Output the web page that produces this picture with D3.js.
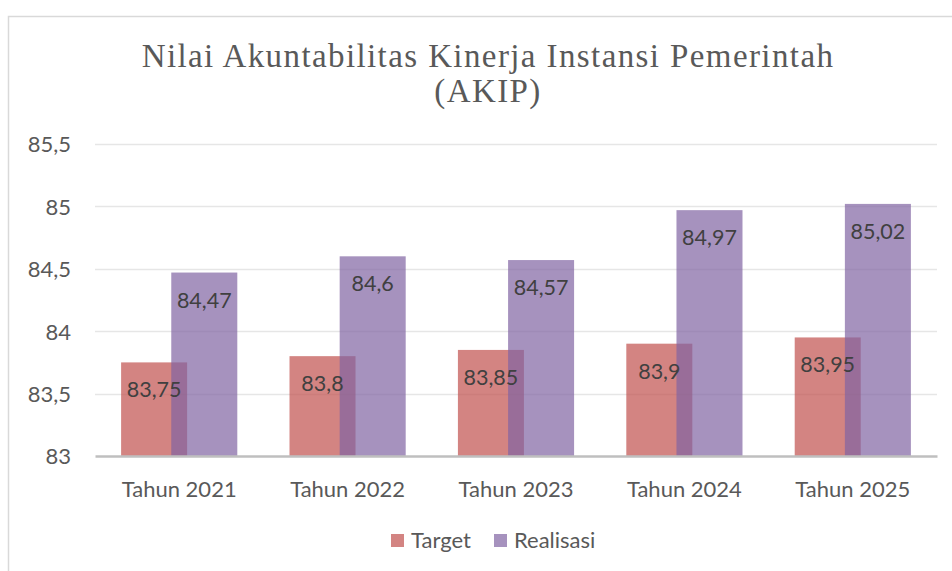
<!DOCTYPE html>
<html>
<head>
<meta charset="utf-8">
<script src="https://cdn.jsdelivr.net/npm/d3@7"></script>
<style>
  html, body { margin: 0; padding: 0; background: #fff; overflow: hidden; }
  svg { display: block; }
</style>
</head>
<body>
<div id="chart"></div>
<script>
const categories = ['Tahun 2021', 'Tahun 2022', 'Tahun 2023', 'Tahun 2024', 'Tahun 2025'];
const target = [83.75, 83.8, 83.85, 83.9, 83.95];
const realisasi = [84.47, 84.6, 84.57, 84.97, 85.02];
const yTicks = [83, 83.5, 84, 84.5, 85, 85.5];
const seriesNames = ['Target', 'Realisasi'];
const seriesColors = ['#C0504D', '#8064A2'];

(function () {
  const W = 952, H = 571;
  const svg = d3.select('#chart').append('svg')
    .attr('width', W).attr('height', H);

  // chart area frame (runs off the right/bottom edge)
  svg.append('rect')
    .attr('x', 8.5).attr('y', 16.5)
    .attr('width', 1000).attr('height', 700)
    .attr('fill', '#fff')
    .attr('stroke', '#d9d9d9').attr('stroke-width', 1.5);

  const plot = { left: 95, right: 937, top: 144, bottom: 456 };
  const fmt = v => String(v).replace('.', ',');

  const x = d3.scaleBand().domain(categories).range([plot.left, plot.right]);
  const y = d3.scaleLinear().domain([83, 85.5]).range([plot.bottom, plot.top]);

  // title
  const title = svg.append('text')
    .attr('text-anchor', 'middle')
    .attr('fill', '#595959')
    .style('font-family', '"Liberation Serif", serif')
    .style('font-size', '33px')
    .style('letter-spacing', '1.4px');
  title.append('tspan').attr('x', 488).attr('y', 67).text('Nilai Akuntabilitas Kinerja Instansi Pemerintah');
  title.append('tspan').attr('x', 488).attr('y', 102).text('(AKIP)');

  // gridlines
  svg.append('g').selectAll('line').data(yTicks.slice(1)).join('line')
    .attr('x1', plot.left).attr('x2', plot.right)
    .attr('y1', d => Math.round(y(d)) + 0.5).attr('y2', d => Math.round(y(d)) + 0.5)
    .attr('stroke', '#e6e6e6').attr('stroke-width', 1.5);

  // y axis labels
  const gy = svg.append('g')
    .attr('transform', `translate(${plot.left - 24},0)`)
    .call(d3.axisLeft(y).tickValues(yTicks).tickFormat(fmt).tickSize(0).tickPadding(0));
  gy.select('.domain').remove();
  gy.selectAll('text')
    .attr('fill', '#595959')
    .attr('dy', '0.36em')
    .style('font-family', 'Lato, sans-serif')
    .style('font-size', '22px');

  // bars
  const bw = x.bandwidth() * 0.392;
  const shift = bw * 0.76;
  const groupW = bw + shift;
  const rows = categories.map((c, i) => ({ c, vals: [target[i], realisasi[i]] }));

  seriesNames.forEach((name, s) => {
    const g = svg.append('g');
    g.selectAll('rect').data(rows).join('rect')
      .attr('x', d => x(d.c) + (x.bandwidth() - groupW) / 2 + s * shift)
      .attr('y', d => y(d.vals[s]))
      .attr('width', bw)
      .attr('height', d => y(83) - y(d.vals[s]))
      .attr('fill', seriesColors[s])
      .attr('fill-opacity', 0.7);
  });

  // value labels
  seriesNames.forEach((name, s) => {
    svg.append('g').selectAll('text').data(rows).join('text')
      .attr('x', d => x(d.c) + (x.bandwidth() - groupW) / 2 + s * shift + bw / 2)
      .attr('y', d => y(d.vals[s]) + 35)
      .attr('text-anchor', 'middle')
      .attr('fill', '#404040')
      .style('font-family', 'Lato, sans-serif')
      .style('font-size', '21.5px')
      .text(d => fmt(d.vals[s]));
  });

  // x axis
  const gx = svg.append('g')
    .attr('transform', `translate(0,${plot.bottom})`)
    .call(d3.axisBottom(x).tickSize(0).tickPadding(0));
  gx.select('.domain')
    .attr('stroke', '#bfbfbf').attr('stroke-width', 2.5);
  gx.selectAll('text')
    .attr('y', 41)
    .attr('dy', 0)
    .attr('fill', '#595959')
    .style('font-family', 'Lato, sans-serif')
    .style('font-size', '22px');

  // legend
  const legend = svg.append('g');
  const lx = [391, 494];
  seriesNames.forEach((name, s) => {
    legend.append('rect')
      .attr('x', lx[s]).attr('y', 534)
      .attr('width', 13).attr('height', 13)
      .attr('fill', seriesColors[s]).attr('fill-opacity', 0.7);
    legend.append('text')
      .attr('x', lx[s] + 20).attr('y', 548)
      .attr('fill', '#595959')
      .style('font-family', 'Lato, sans-serif')
      .style('font-size', '22px')
      .text(name);
  });
})();
</script>
</body>
</html>
